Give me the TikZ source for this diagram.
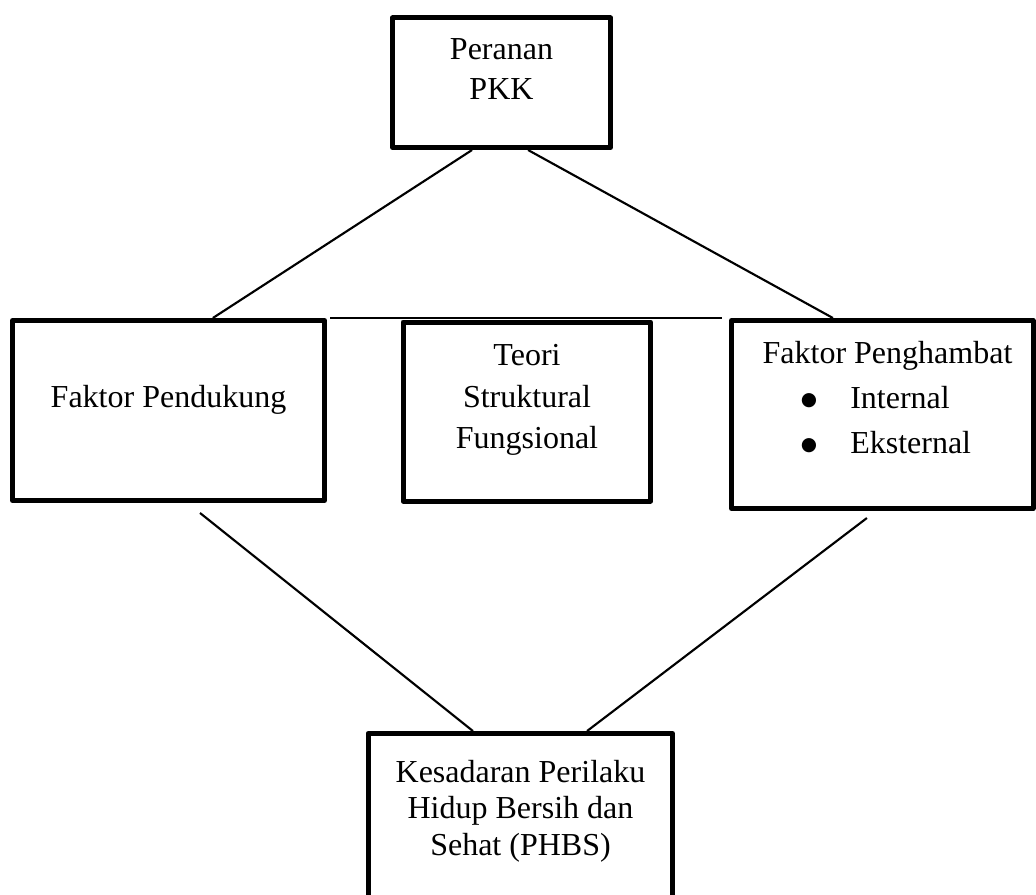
\documentclass[tikz,border=0pt]{standalone}
\usepackage{fontspec}
\setmainfont{Liberation Serif}
\newfontfamily\symfont{DejaVu Sans}
\usetikzlibrary{calc}
\newcommand{\mybul}{\makebox[39pt][l]{\hspace{2pt}\raisebox{2.25pt}[0pt][0pt]{\symfont\fontsize{14}{14}\selectfont ●}}}
\begin{document}
\begin{tikzpicture}[x=0.75pt,y=-0.75pt,
  box/.style={draw, rectangle, line width=3.75pt, line join=round, inner sep=0pt},
  conn/.style={line width=1.6pt},
  hline/.style={line width=1.3pt},
  txt/.style={anchor=base, inner sep=0pt, font=\fontsize{24}{24}\selectfont}]
\useasboundingbox (0,0) rectangle (1036,895);
\clip (0,0) rectangle (1036,895);
% boxes
\node[box, minimum width=163.5pt, minimum height=97.125pt] (top) at (501.5,82.75) {};
\node[box, minimum width=234pt, minimum height=135pt] (pend) at (168.5,410.5) {};
\node[box, minimum width=185.625pt, minimum height=134.25pt] (teori) at (526.75,411.5) {};
\node[box, minimum width=226.125pt, minimum height=141pt] (peng) at (882.25,414.5) {};
\node[box, minimum width=228.375pt, minimum height=132.375pt] (bot) at (520.25,821.75) {};
% texts
\node[txt] (t1) at (501.5,60) {Peranan};
\node[txt] (t2) at (501.5,100) {PKK};
\node[txt] (t3) at (168.5,407) {Faktor Pendukung};
\node[txt] (t4) at (527,365) {Teori};
\node[txt] (t5) at (527,407) {Struktural};
\node[txt] (t6) at (527,448) {Fungsional};
\node[txt] (t7) at (887.5,363) {Faktor Penghambat};
\node[txt, anchor=base west] (t8) at (798,408) {\mybul Internal};
\node[txt, anchor=base west] (t9) at (798,453) {\mybul Eksternal};
\node[txt] (t10) at (520.5,782) {Kesadaran Perilaku};
\node[txt] (t11) at (520.5,818) {Hidup Bersih dan};
\node[txt] (t12) at (520.5,855) {Sehat (PHBS)};
% connectors
\draw[conn] ($(top.south west)!0.368!(top.south east)$) -- ($(pend.north west)!0.640!(pend.north east)$);
\draw[conn] ($(top.south west)!0.619!(top.south east)$) -- ($(peng.north west)!0.339!(peng.north east)$);
\draw[hline] ([xshift=2.25pt]pend.north east) -- ([xshift=-5.25pt]peng.north west);
\draw[conn, shorten <=12pt] ($(pend.south west)!0.56!(pend.south east)$) -- ($(bot.north west)!0.347!(bot.north east)$);
\draw[conn, shorten <=8.7pt] ($(peng.south west)!0.48!(peng.south east)$) -- ($(bot.north west)!0.716!(bot.north east)$);
\end{tikzpicture}
\end{document}
